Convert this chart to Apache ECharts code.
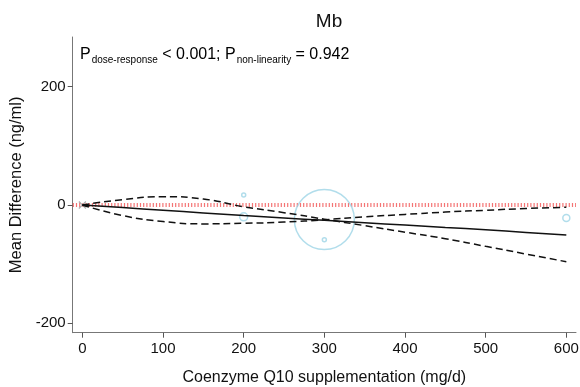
<!DOCTYPE html>
<html>
<head>
<meta charset="utf-8">
<script src="https://cdn.jsdelivr.net/npm/echarts@6/dist/echarts.min.js"></script>
<style>
  html, body { margin: 0; padding: 0; background: #fff; }
  #container { width: 580px; height: 387px; }
</style>
</head>
<body>
<div id="container"></div>
<script>
// dose grid for fitted curves (mg/d)
var doses = [0, 50, 100, 150, 200, 250, 300, 350, 400, 450, 500, 550, 600];
var fitted = [0, -4.5, -9, -13.5, -18, -22, -26, -30, -34, -38, -42, -46.5, -51];
var ciA = [0, 9, 14, 10, -3, -13, -24, -35, -46, -57, -70, -83, -96];
var ciB = [0, -18, -28, -32, -31, -29, -25, -20, -16, -12, -9, -6, -4];

// study estimates (bubbles)
var studyDose = [200, 200, 300, 300, 600];
var studyMD = [17, -20, -24.5, -59, -22];
var studySize = [4, 8, 60, 4, 7];

var xTicks = [0, 100, 200, 300, 400, 500, 600];
var yTicks = [-200, 0, 200];

function pairs(xs, ys) {
    return xs.map(function (x, i) { return [x, ys[i]]; });
}

!(function () {
    var dom = document.getElementById('container');
    var myChart = echarts.init(dom);
    var font = '"Liberation Sans", Arial, sans-serif';
    var option = {
        animation: false,
        backgroundColor: '#fff',
        title: {
            text: 'Mb',
            left: 324,
            top: 7,
            textAlign: 'center',
            textStyle: { fontFamily: font, fontSize: 19, fontWeight: 'normal', color: '#111' }
        },
        grid: { left: 72.7, right: 4, top: 37, bottom: 54.3, containLabel: false, outerBoundsMode: 'none' },
        xAxis: {
            type: 'value',
            min: -12,
            max: 612,
            name: 'Coenzyme Q10 supplementation (mg/d)',
            nameLocation: 'middle',
            nameGap: 37,
            nameTextStyle: { fontFamily: font, fontSize: 16, color: '#111' },
            splitLine: { show: false },
            axisLine: { show: true, onZero: false, lineStyle: { color: '#777', width: 1 } },
            axisTick: { show: true, customValues: xTicks, length: 5, lineStyle: { color: '#555' } },
            axisLabel: { customValues: xTicks, margin: 9, fontFamily: font, fontSize: 15, color: '#111' }
        },
        yAxis: {
            type: 'value',
            min: -216,
            max: 284,
            name: 'Mean Difference (ng/ml)',
            nameLocation: 'middle',
            nameGap: 46,
            nameTextStyle: { fontFamily: font, fontSize: 16.5, color: '#111' },
            splitLine: { show: false },
            axisLine: { show: true, onZero: false, lineStyle: { color: '#777', width: 1 } },
            axisTick: { show: true, customValues: yTicks, length: 5, lineStyle: { color: '#555' } },
            axisLabel: { customValues: yTicks, margin: 7, fontFamily: font, fontSize: 15, color: '#111' }
        },
        graphic: [{
            type: 'text',
            left: 80,
            top: 47,
            style: {
                text: '{p|P}{s|dose-response}{p| < 0.001; P}{s|non-linearity}{p| = 0.942}',
                rich: {
                    p: { fontFamily: font, fontSize: 16, color: '#111', lineHeight: 20 },
                    s: { fontFamily: font, fontSize: 10, color: '#111', lineHeight: 20, verticalAlign: 'bottom', padding: [0, 0, 0, 1] }
                }
            }
        }],
        series: [
            {
                name: 'ref',
                type: 'line',
                data: [[-12, 0], [612, 0]],
                symbol: 'none',
                silent: true,
                lineStyle: { color: 'rgba(240,70,70,0.75)', width: 4, type: [1.2, 2] },
                z: 1
            },
            {
                name: 'ciA',
                type: 'line',
                data: pairs(doses, ciA),
                smooth: true,
                symbol: 'none',
                lineStyle: { color: '#111', width: 1.5, type: [7, 4] },
                z: 3
            },
            {
                name: 'ciB',
                type: 'line',
                data: pairs(doses, ciB),
                smooth: true,
                symbol: 'none',
                lineStyle: { color: '#111', width: 1.5, type: [7, 4] },
                z: 3
            },
            {
                name: 'fit',
                type: 'line',
                data: pairs(doses, fitted),
                smooth: true,
                symbol: 'none',
                lineStyle: { color: '#111', width: 1.5 },
                z: 4
            },
            {
                name: 'studies',
                type: 'scatter',
                data: studyDose.map(function (d, i) { return [d, studyMD[i], studySize[i]]; }),
                symbol: 'circle',
                symbolSize: function (v) { return v[2]; },
                itemStyle: { color: 'rgba(0,0,0,0)', borderColor: '#9ed4e6', borderWidth: 1.5 },
                z: 2
            },
            {
                name: 'origin',
                type: 'scatter',
                data: [[0, 0]],
                symbol: 'path://M0,0L10,10M10,0L0,10',
                symbolSize: 7,
                itemStyle: { color: 'none', borderColor: '#999', borderWidth: 1.2 },
                z: 2
            }
        ]
    };
    myChart.setOption(option, true);
}());
</script>
</body>
</html>
